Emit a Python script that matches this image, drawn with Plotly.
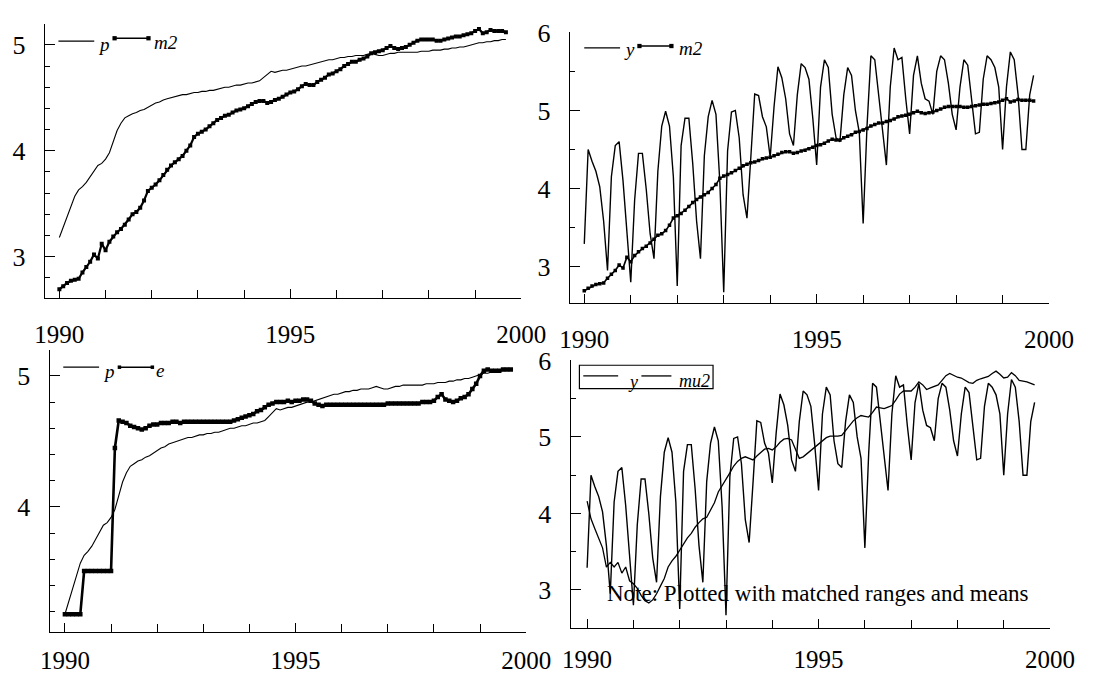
import plotly.graph_objects as go

W, H = 1107, 674
FONT = "Liberation Serif"

# monthly observations, Jan 1990 .. Sep 1999
n_obs = 117
t = [1990 + k / 12 for k in range(n_obs)]

p = [3.18, 3.28, 3.39, 3.49, 3.57, 3.63, 3.66, 3.70, 3.75, 3.81,
     3.86, 3.88, 3.92, 3.98, 4.08, 4.19, 4.26, 4.31, 4.33, 4.35,
     4.36, 4.38, 4.39, 4.41, 4.43, 4.45, 4.46, 4.48, 4.49, 4.50,
     4.51, 4.52, 4.53, 4.53, 4.54, 4.55, 4.55, 4.56, 4.56, 4.57,
     4.57, 4.58, 4.59, 4.60, 4.60, 4.61, 4.62, 4.62, 4.63, 4.64,
     4.64, 4.65, 4.66, 4.69, 4.72, 4.75, 4.74, 4.75, 4.76, 4.76,
     4.77, 4.78, 4.79, 4.80, 4.80, 4.81, 4.82, 4.83, 4.84, 4.85,
     4.86, 4.86, 4.87, 4.88, 4.88, 4.89, 4.89, 4.90, 4.90, 4.90,
     4.91, 4.92, 4.91, 4.90, 4.90, 4.91, 4.92, 4.92, 4.93, 4.93,
     4.93, 4.93, 4.93, 4.93, 4.94, 4.94, 4.94, 4.95, 4.95, 4.95,
     4.96, 4.96, 4.97, 4.97, 4.98, 4.98, 4.99, 5.00, 5.01, 5.02,
     5.02, 5.03, 5.03, 5.04, 5.04, 5.05, 5.05]

m2 = [2.69, 2.72, 2.75, 2.77, 2.78, 2.79, 2.85, 2.90, 2.95, 3.02,
      2.98, 3.12, 3.06, 3.14, 3.19, 3.23, 3.26, 3.30, 3.35, 3.40,
      3.42, 3.46, 3.53, 3.62, 3.65, 3.68, 3.72, 3.77, 3.82, 3.86,
      3.89, 3.92, 3.95, 4.00, 4.05, 4.13, 4.16, 4.18, 4.20, 4.23,
      4.26, 4.29, 4.31, 4.33, 4.34, 4.36, 4.38, 4.39, 4.40, 4.42,
      4.44, 4.46, 4.47, 4.47, 4.45, 4.46, 4.48, 4.49, 4.51, 4.53,
      4.55, 4.56, 4.58, 4.61, 4.63, 4.62, 4.62, 4.65, 4.67, 4.69,
      4.72, 4.73, 4.75, 4.77, 4.80, 4.82, 4.84, 4.84, 4.86, 4.87,
      4.89, 4.92, 4.93, 4.94, 4.95, 4.97, 4.99, 4.97, 4.96, 4.97,
      4.98, 5.00, 5.02, 5.04, 5.05, 5.05, 5.05, 5.05, 5.04, 5.04,
      5.05, 5.06, 5.07, 5.08, 5.08, 5.09, 5.10, 5.11, 5.13, 5.15,
      5.11, 5.12, 5.14, 5.13, 5.13, 5.13, 5.12]

y = [3.29, 4.50, 4.35, 4.22, 4.02, 3.58, 2.95, 4.15, 4.55, 4.60,
     4.10, 3.40, 2.80, 3.85, 4.45, 4.45, 3.99, 3.42, 3.10, 4.22,
     4.80, 4.99, 4.80, 4.15, 2.75, 4.55, 4.90, 4.90, 4.32, 3.58,
     3.10, 4.42, 4.92, 5.13, 4.95, 4.08, 2.67, 4.48, 4.98, 5.00,
     4.65, 3.92, 3.62, 4.40, 5.21, 5.19, 4.92, 4.79, 4.40, 5.05,
     5.56, 5.42, 5.15, 4.70, 4.55, 5.20, 5.60, 5.55, 5.40, 4.90,
     4.30, 5.30, 5.65, 5.55, 4.95, 4.65, 4.60, 5.20, 5.55, 5.45,
     5.00, 4.72, 3.55, 4.80, 5.70, 5.65, 5.20, 4.80, 4.30, 5.30,
     5.80, 5.65, 5.68, 5.15, 4.70, 5.45, 5.70, 5.35, 5.15, 5.12,
     4.95, 5.50, 5.70, 5.65, 5.35, 4.95, 4.75, 5.30, 5.65, 5.58,
     5.15, 4.70, 4.72, 5.40, 5.70, 5.65, 5.55, 5.30, 4.50, 5.30,
     5.75, 5.65, 5.20, 4.50, 4.50, 5.20, 5.45]

e = [3.18, 3.18, 3.18, 3.18, 3.18, 3.51, 3.51, 3.51, 3.51, 3.51,
     3.51, 3.51, 3.51, 4.45, 4.66, 4.65, 4.64, 4.62, 4.61, 4.60,
     4.59, 4.60, 4.62, 4.63, 4.63, 4.64, 4.64, 4.64, 4.65, 4.65,
     4.64, 4.65, 4.65, 4.65, 4.65, 4.65, 4.65, 4.65, 4.65, 4.65,
     4.65, 4.65, 4.65, 4.65, 4.66, 4.67, 4.68, 4.69, 4.70, 4.71,
     4.73, 4.74, 4.76, 4.78, 4.79, 4.80, 4.80, 4.80, 4.81, 4.80,
     4.81, 4.81, 4.82, 4.82, 4.81, 4.79, 4.78, 4.77, 4.78, 4.78,
     4.78, 4.78, 4.78, 4.78, 4.78, 4.78, 4.78, 4.78, 4.78, 4.78,
     4.78, 4.78, 4.78, 4.78, 4.79, 4.79, 4.79, 4.79, 4.79, 4.79,
     4.79, 4.79, 4.79, 4.80, 4.80, 4.80, 4.81, 4.84, 4.86, 4.82,
     4.81, 4.80, 4.81, 4.83, 4.84, 4.86, 4.90, 4.94, 5.00, 5.04,
     5.05, 5.04, 5.04, 5.04, 5.05, 5.05, 5.05]

mu2 = [4.16, 3.93, 3.80, 3.68, 3.55, 3.30, 3.36, 3.30, 3.36, 3.22,
       3.30, 3.12, 3.08, 3.02, 2.93, 2.86, 2.83, 2.87, 2.95, 3.05,
       3.15, 3.30, 3.38, 3.44, 3.52, 3.60, 3.68, 3.74, 3.82, 3.88,
       3.93, 3.95, 4.05, 4.14, 4.28, 4.36, 4.45, 4.53, 4.62, 4.68,
       4.72, 4.74, 4.72, 4.70, 4.75, 4.80, 4.84, 4.85, 4.83, 4.87,
       4.93, 4.97, 4.98, 4.96, 4.85, 4.72, 4.74, 4.78, 4.83, 4.87,
       4.90, 4.94, 4.99, 5.01, 5.01, 5.01, 5.02, 5.08, 5.15, 5.21,
       5.25, 5.28, 5.27, 5.26, 5.32, 5.39, 5.38, 5.37, 5.39, 5.41,
       5.48, 5.56, 5.60, 5.60, 5.60, 5.65, 5.72, 5.68, 5.62, 5.64,
       5.66, 5.68, 5.74, 5.80, 5.83, 5.80, 5.78, 5.77, 5.74, 5.71,
       5.70, 5.74, 5.76, 5.78, 5.79, 5.83, 5.86, 5.82, 5.77, 5.78,
       5.84, 5.80, 5.74, 5.73, 5.72, 5.70, 5.68]

x_tick_vals = [1990, 1995, 2000]
x_tick_text = ["1990", "1995", "2000"]

# panel boxes in pixels (left, right, top, bottom), left x value, y range,
# minor y step, y tick values, gap between x axis and its labels
panels = {
    "1": dict(box=(36, 528, 10, 293), x0=1989.686, yr=(2.605, 5.2), ystep=0.2,
              yt=[3, 4, 5], xgap=14),
    "2": dict(box=(578, 1073, 19, 298), x0=1989.687, yr=(2.53, 6.0), ystep=0.5,
              yt=[3, 4, 5, 6], xgap=14),
    "3": dict(box=(41, 533, 346, 637), x0=1989.67, yr=(3.044, 5.2), ystep=0.2,
              yt=[4, 5], xgap=6),
    "4": dict(box=(579, 1074, 357, 633), x0=1989.645, yr=(2.5, 6.0), ystep=0.5,
              yt=[3, 4, 5, 6], xgap=9),
}

fig = go.Figure()


def add_line(panel, yy, width):
    sfx = "" if panel == "1" else panel
    fig.add_trace(go.Scatter(x=t, y=yy, mode="lines", xaxis="x" + sfx, yaxis="y" + sfx,
                             line=dict(color="black", width=width), hoverinfo="skip"))


def add_marked(panel, yy, width, msize):
    sfx = "" if panel == "1" else panel
    fig.add_trace(go.Scatter(x=t, y=yy, mode="lines+markers", xaxis="x" + sfx, yaxis="y" + sfx,
                             line=dict(color="black", width=width),
                             marker=dict(symbol="square", size=msize, color="black"),
                             hoverinfo="skip"))


add_line("1", p, 1.1)
add_marked("1", m2, 2.2, 4)
add_line("2", y, 1.4)
add_marked("2", m2, 1.6, 3.5)
add_line("3", p, 1.1)
add_marked("3", e, 2.6, 4.5)
add_line("4", y, 1.4)
add_line("4", mu2, 1.3)

layout = dict(width=W, height=H, margin=dict(l=0, r=0, t=0, b=0),
              paper_bgcolor="white", plot_bgcolor="white", showlegend=False)

for key, cfg in panels.items():
    left, right, top, bottom = cfg["box"]
    sfx = "" if key == "1" else key
    layout["xaxis" + sfx] = dict(
        domain=[left / W, right / W], range=[cfg["x0"], 2000], anchor="y" + sfx,
        showgrid=False, zeroline=False, showline=True, linecolor="black", linewidth=1.3,
        tickmode="array", tickvals=x_tick_vals, ticktext=x_tick_text,
        ticks="inside", ticklen=9, tickwidth=1.2, tickcolor="black",
        ticklabelstandoff=cfg["xgap"],
        minor=dict(dtick=1, tick0=1990, ticks="inside", ticklen=8, tickwidth=1.1,
                   tickcolor="black", showgrid=False),
        tickfont=dict(family=FONT, size=25, color="black"),
    )
    layout["yaxis" + sfx] = dict(
        domain=[1 - bottom / H, 1 - top / H], range=list(cfg["yr"]), anchor="x" + sfx,
        showgrid=False, zeroline=False, showline=True, linecolor="black", linewidth=1.3,
        tickmode="array", tickvals=cfg["yt"],
        ticks="inside", ticklen=10, tickwidth=1.2, tickcolor="black",
        ticklabelstandoff=13,
        minor=dict(dtick=cfg["ystep"], ticks="inside", ticklen=5, tickwidth=1,
                   tickcolor="black", showgrid=False),
        tickfont=dict(family=FONT, size=26, color="black"),
    )

shapes = []
annotations = []


def px(x):
    return x / W


def py(yv):
    return 1 - yv / H


def seg(x0, x1, yv, width=1.3):
    shapes.append(dict(type="line", xref="paper", yref="paper", x0=px(x0), x1=px(x1),
                       y0=py(yv), y1=py(yv), line=dict(color="black", width=width)))


def dot(xc, yc, s=2.2):
    shapes.append(dict(type="rect", xref="paper", yref="paper",
                       x0=px(xc - s), x1=px(xc + s), y0=py(yc + s), y1=py(yc - s),
                       fillcolor="black", line=dict(width=0)))


def label(text, x, yv, size=19):
    annotations.append(dict(text="<i>%s</i>" % text, x=px(x), y=py(yv), xref="paper", yref="paper",
                            xanchor="left", yanchor="middle", showarrow=False,
                            font=dict(family=FONT, size=size, color="black")))


# key: p and m2
seg(50, 87, 28)
label("p", 89, 31)
seg(108, 143, 25, 1.6)
dot(108, 25)
dot(143, 25)
label("m2", 147, 29)

# key: y and m2
seg(593, 630, 35)
label("y", 632, 37)
seg(650, 683, 33, 1.6)
dot(650, 33)
dot(683, 33)
label("m2", 689, 36)

# key: p and e
seg(55, 92, 364)
label("p", 94, 368)
seg(113, 147, 364, 1.6)
dot(113, 364, 1.8)
dot(147, 364, 1.8)
label("e", 149, 367)

# boxed key: y and mu2
shapes.append(dict(type="rect", xref="paper", yref="paper", x0=px(588), x1=px(726),
                   y0=py(386), y1=py(362), line=dict(color="black", width=1.2)))
seg(592, 628, 373)
label("y", 636, 379, 18)
seg(652, 683, 373)
label("mu2", 689, 378, 18)

annotations.append(dict(text="Note: Plotted with matched ranges and means",
                        x=px(834), y=py(597), xref="paper", yref="paper",
                        xanchor="center", yanchor="middle", showarrow=False,
                        font=dict(family=FONT, size=23, color="black")))

layout["shapes"] = shapes
layout["annotations"] = annotations
fig.update_layout(**layout)
fig.write_html("out.html")
